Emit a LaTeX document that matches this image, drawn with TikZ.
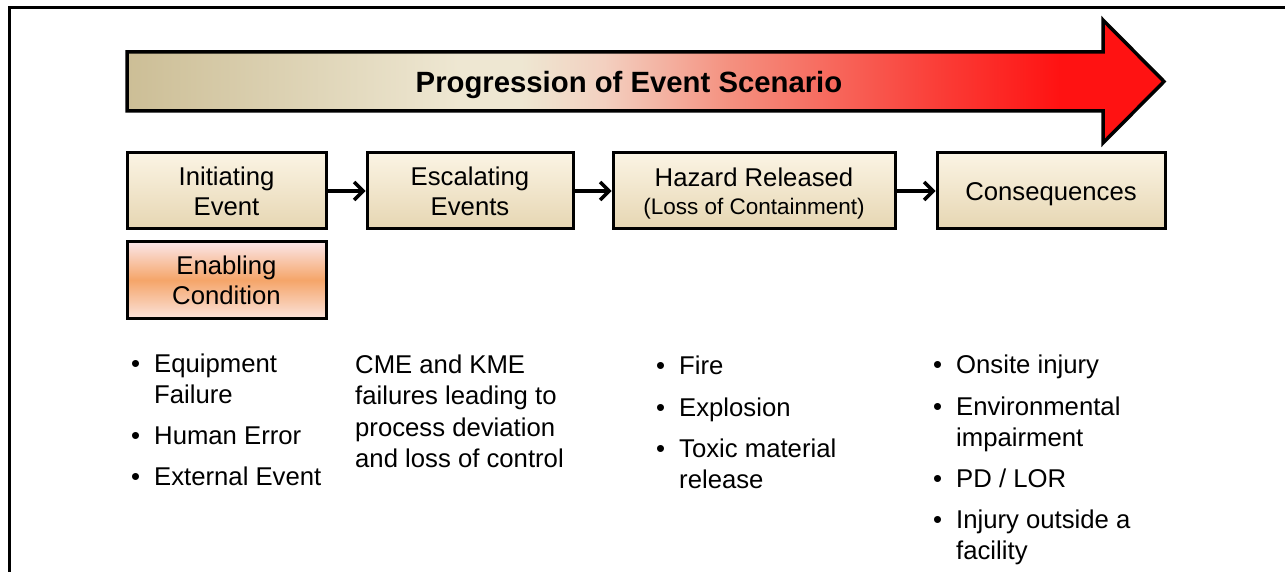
\documentclass[tikz,border=0pt]{standalone}
\usepackage{fontspec}
\setmainfont{Liberation Sans}
\usetikzlibrary{arrows.meta}
\definecolor{tanA}{RGB}{204,190,150}
\definecolor{creamA}{RGB}{238,231,210}
\definecolor{pinkA}{RGB}{243,208,192}
\definecolor{salmonA}{RGB}{244,145,128}
\definecolor{redB}{RGB}{250,62,56}
\definecolor{redA}{RGB}{255,18,18}
\definecolor{boxTop}{RGB}{251,244,228}
\definecolor{boxBot}{RGB}{230,214,178}
\definecolor{enTop}{RGB}{251,230,232}
\definecolor{enMid}{RGB}{245,165,105}
\definecolor{enBot}{RGB}{251,226,218}
\pgfdeclarehorizontalshading{progshade}{100bp}{color(0bp)=(tanA); color(25bp)=(tanA); color(41bp)=(creamA); color(44bp)=(creamA); color(48bp)=(pinkA); color(54bp)=(salmonA); color(64bp)=(redB); color(70bp)=(redA); color(100bp)=(redA)}
\tikzset{
  stagebox/.style={draw=black, line width=3pt, top color=boxTop, bottom color=boxBot,
    minimum height=76pt, inner sep=0pt, align=center,
    font=\fontsize{25.7}{30}\selectfont},
  enbox/.style={draw=black, line width=3pt, top color=enTop, bottom color=enBot, middle color=enMid,
    minimum height=76pt, minimum width=199pt, inner sep=0pt, align=center,
    font=\fontsize{25.7}{30}\selectfont},
  conn/.style={line width=3.5pt, -{Straight Barb[length=9pt,width=18pt]}},
  txt/.style={anchor=base west, inner sep=0pt, font=\fontsize{25.7}{31}\selectfont},
  bul/.style={anchor=base west, inner sep=0pt, font=\fontsize{25.7}{31}\selectfont},
  frame/.style={line width=3pt}
}
\begin{document}
\begin{tikzpicture}[x=1pt,y=-1pt]
\useasboundingbox (0,0) rectangle (1285,572);
% frame
\coordinate (f1) at (9,575);
\coordinate (f2) at (9,7.5);
\coordinate (f3) at (1290,7.5);
\draw[frame] (f1) -- (f2) -- (f3);
% progression arrow
\shadedraw[shading=progshade, draw=black, line width=3.5pt, line join=miter]
  (127,52) -- (1103,52) -- (1103,20) -- (1164,81.5) -- (1103,143) -- (1103,111) -- (127,111) -- cycle;
\node[anchor=base, inner sep=0pt, font=\fontsize{29.3}{34}\selectfont\bfseries] (title) at (629,93) {Progression of Event Scenario};
% stage boxes
\node[stagebox, minimum width=199pt] (ie) at (226.5,191) {Initiating\\Event};
\node[stagebox, minimum width=206pt] (ee) at (470,191) {Escalating\\Events};
\node[stagebox, minimum width=282pt, text depth=0pt] (hr) at (754,191) {Hazard Released\\[-2pt]{\fontsize{22.5}{27}\selectfont (Loss of Containment)}};
\node[stagebox, minimum width=228pt, text height=20pt, text depth=0pt] (co) at (1051,191) {Consequences};
\node[enbox] (ec) at (226.5,280) {Enabling\\Condition};
% connectors
\draw[conn] (ie.east) -- (ee.west);
\draw[conn] (ee.east) -- (hr.west);
\draw[conn] (hr.east) -- (co.west);
% column 1
\node[bul] (b11) at (131,372) {•};
\node[txt] (t11a) at (154,372) {Equipment};
\node[txt] (t11b) at (154,403) {Failure};
\node[bul] (b12) at (131,444) {•};
\node[txt] (t12) at (154,444) {Human Error};
\node[bul] (b13) at (131,485) {•};
\node[txt] (t13) at (154,485) {External Event};
% column 2
\node[txt] (t21) at (355,373) {CME and KME};
\node[txt] (t22) at (355,404) {failures leading to};
\node[txt] (t23) at (355,436) {process deviation};
\node[txt] (t24) at (355,467) {and loss of control};
% column 3
\node[bul] (b31) at (656,374) {•};
\node[txt] (t31) at (679,374) {Fire};
\node[bul] (b32) at (656,416) {•};
\node[txt] (t32) at (679,416) {Explosion};
\node[bul] (b33) at (656,457) {•};
\node[txt] (t33a) at (679,457) {Toxic material};
\node[txt] (t33b) at (679,488) {release};
% column 4
\node[bul] (b41) at (933,373) {•};
\node[txt] (t41) at (956,373) {Onsite injury};
\node[bul] (b42) at (933,415) {•};
\node[txt] (t42a) at (956,415) {Environmental};
\node[txt] (t42b) at (956,446) {impairment};
\node[bul] (b43) at (933,487) {•};
\node[txt] (t43) at (956,487) {PD / LOR};
\node[bul] (b44) at (933,528) {•};
\node[txt] (t44a) at (956,528) {Injury outside a};
\node[txt] (t44b) at (956,559) {facility};
\end{tikzpicture}
\end{document}
